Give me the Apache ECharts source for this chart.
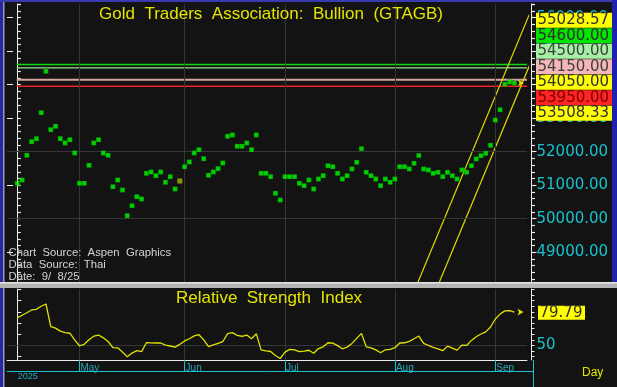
<!DOCTYPE html>
<html><head><meta charset="utf-8">
<script src="https://cdn.jsdelivr.net/npm/echarts@6/dist/echarts.min.js"></script>
<style>html,body{margin:0;padding:0;background:#131313;}#c{width:617px;height:387px;}</style>
</head><body><div id="c"></div>
<script>
// ---- data ----
const titleText = 'Gold  Traders  Association:  Bullion  (GTAGB)';
const rsiTitle = 'Relative  Strength  Index';
const price = [51057,51155,51893,52299,52388,53164,54400,52657,52758,52388,52260,52358,51961,51057,51057,51594,52260,52358,51961,51893,
50955,51155,50857,50090,50388,50657,50588,51355,51394,51284,51394,51087,51254,50887,51125,51552,51693,51961,52060,51791,
51296,51394,51493,51663,52460,52499,52161,52161,52260,52060,52499,51355,51355,51254,50758,50558,51254,51254,51254,51057,
50985,51155,50887,51185,51284,51582,51552,51355,51185,51284,51484,51684,52090,51385,51284,51185,50985,51185,51087,51185,
51552,51552,51484,51654,51887,51484,51454,51355,51385,51254,51385,51284,51185,51454,51385,51582,51782,51881,51952,52191,
52946,53254,54012,54081,54050];
const rsi = [74.6,77,79.2,81.7,82.3,85,87,66.7,65.5,62.8,61.5,60.9,55,49.7,51,55,58.3,59.3,56.8,53.5,
48,47.9,44.2,39.8,43.2,45.3,44.5,52.4,52.3,52.2,52.2,50.3,49.5,48.5,51,54,56,58.5,59.6,55,
49,50.6,51.9,53.5,60.6,61.4,59,58.2,59.3,56,60.5,46,45.2,44.6,41,38.3,44,46.5,46.1,44.4,
45,45.7,43,47.2,48.8,52.4,52,49.8,47,48.5,51.8,56.3,60.8,48.8,47.8,46,43.5,46.1,46.5,48,
52.2,52.4,53.6,56,58.4,51.8,50,48.3,47,45.3,49.4,47.6,45.8,50.3,50,54.5,57.8,60.2,62.1,66.5,
73.6,78,80.9,81,79.79];
const monthStarts = [13,35,56,79,100];
const monthNames = ['May','Jun','Jul','Aug','Sep'];
const yearLabel = '2025';
const levelValues = [54600,54500,54150,53950];
const channelUpper = [[80,46796],[108,56400]];
const channelLower = [[84,46635],[108,54867]];
const priceTags = ['55028.57','54600.00','54500.00','54150.00','54050.00','53950.00','53508.33'];
const rsiLast = 79.79;
const priceGrid = [50000,52000];
const priceMajor = [49000,50000,51000,52000,53000,54000,55000,56000];
const sourceLines = ['Chart  Source:  Aspen  Graphics','Data  Source:  Thai','Date:  9/  8/25'];
const specialIndex = 34;

// ---- styling ----
const levelColors = ['#12d812','#98e098','#d6a4a4','#ee2222'];
const levelWidths = [1.5,1.2,2,1.5];
const tagBg = ['#ffff00','#00e400','#a6f0a6','#f4b6b6','#ffff00','#ff2424','#ffff00'];
const tagFg = ['#303030','#303030','#404040','#404040','#303030','#7a0000','#303030'];
const CYAN = '#18c2cc';
const YEL = '#e4e400';
const AX = '#ececec';

const xMin = -2.155, xMax = 106.63;
const pMin = 48119, pMax = 56409;
const pTickMin = 48000;            // helper scale for minor ticks (same pixel mapping)
const rMin = 37, rMax = 100.4;
const rsiLeftTicks = [40,50,60,70,80,90,100];
const rsiRightTicks = []; for (let v = 40; v <= 100; v += 5) rsiRightTicks.push(v);

const chart = echarts.init(document.getElementById('c'));
const gridLine = {color:'#363636', width:1, type:'solid'};
const noLabel = {show:false};

const graphics = [];
graphics.push({type:'rect', shape:{x:0,y:0,width:3,height:387}, style:{fill:'#2626a6'}, z:200});
graphics.push({type:'rect', shape:{x:3,y:0,width:1.5,height:387}, style:{fill:'#9a9ab4'}, z:200});
graphics.push({type:'rect', shape:{x:0,y:0,width:617,height:2}, style:{fill:'#3a3ab0'}, z:200});
graphics.push({type:'rect', shape:{x:612,y:0,width:5,height:282}, style:{fill:'#2020b0'}, z:200});
graphics.push({type:'rect', shape:{x:0,y:282,width:617,height:6}, style:{fill:'#b4b4b4'}, z:200});
graphics.push({type:'rect', shape:{x:0,y:282,width:617,height:1.5}, style:{fill:'#e6e6e6'}, z:200});
graphics.push({type:'text', x:271, y:14, z:150, style:{text:titleText, fill:YEL, fontSize:17, fontFamily:'Liberation Sans', align:'center', verticalAlign:'middle'}});
graphics.push({type:'text', x:269, y:298.7, z:150, style:{text:rsiTitle, fill:YEL, fontSize:17, fontFamily:'Liberation Sans', align:'center', verticalAlign:'middle'}});
sourceLines.forEach((t,k)=>graphics.push({type:'text', x:8.5, y:252.7+k*12, z:150, style:{text:t, fill:'#d4d4d4', fontSize:11.3, fontFamily:'Liberation Sans', align:'left', verticalAlign:'middle'}}));
priceTags.forEach((t,k)=>{
  graphics.push({type:'rect', shape:{x:536,y:12.7+k*15.5,width:76,height:15}, style:{fill:tagBg[k]}, z:120});
  graphics.push({type:'text', x:537.5, y:20.6+k*15.5, z:121, style:{text:t, fill:tagFg[k], fontSize:15, fontFamily:'DejaVu Sans', align:'left', verticalAlign:'middle'}});
});
graphics.push({type:'rect', shape:{x:538,y:305.7,width:47,height:14}, style:{fill:'#ffff00'}, z:120});
graphics.push({type:'text', x:539.5, y:313, z:121, style:{text:rsiLast.toFixed(2), fill:'#303030', fontSize:15, fontFamily:'DejaVu Sans', align:'left', verticalAlign:'middle'}});
graphics.push({type:'line', shape:{x1:7,y1:371.5,x2:533.5,y2:371.5}, style:{stroke:CYAN, lineWidth:1}, z:130});
graphics.push({type:'line', shape:{x1:533.5,y1:360,x2:533.5,y2:387}, style:{stroke:CYAN, lineWidth:1}, z:130});
graphics.push({type:'text', x:17.7, y:377, z:130, style:{text:yearLabel, fill:'#22a8b8', fontSize:9, fontFamily:'Liberation Sans', align:'left', verticalAlign:'middle'}});
graphics.push({type:'text', x:582, y:373, z:130, style:{text:'Day', fill:YEL, fontSize:12, fontFamily:'Liberation Sans', align:'left', verticalAlign:'middle'}});

const series = [
  {type:'line', xAxisIndex:0, yAxisIndex:0, data:[], silent:true, z:1,
   markLine:{silent:true, symbol:['none','none'], label:noLabel, lineStyle:gridLine, animation:false,
     data:[...monthStarts.map(m=>({xAxis:m})), ...priceGrid.map(v=>({yAxis:v}))]}},
  {type:'line', xAxisIndex:1, yAxisIndex:4, data:[], silent:true, z:1,
   markLine:{silent:true, symbol:['none','none'], label:noLabel, lineStyle:gridLine, animation:false,
     data:[...monthStarts.map(m=>({xAxis:m})), {yAxis:50}]}},
  {type:'line', xAxisIndex:2, yAxisIndex:6, data:[], silent:true}
];
levelValues.forEach((v,k)=>series.push({type:'line', xAxisIndex:0, yAxisIndex:0, symbol:'none', silent:true, z:3,
  data:[[-0.1,v],[xMax,v]], lineStyle:{color:levelColors[k], width:levelWidths[k]}}));
[channelUpper, channelLower].forEach(c=>series.push({type:'line', xAxisIndex:0, yAxisIndex:0, symbol:'none', silent:true, z:4, clip:true,
  data:c, lineStyle:{color:'#dede00', width:1.2}}));
series.push({type:'scatter', xAxisIndex:0, yAxisIndex:0, symbol:'rect', symbolSize:4.6, z:6, silent:true,
  itemStyle:{color:'#00ff00', borderColor:'#006000', borderWidth:0.4},
  data:price.map((v,i)=> i===specialIndex ? {value:[i,v], itemStyle:{color:'#a8b800', borderColor:'#a8b800'}} : [i,v]),
  markPoint:{symbol:'arrow', symbolSize:[5,6], symbolRotate:-90, silent:true, itemStyle:{color:YEL}, label:noLabel,
    data:[{coord:[106, price[price.length-1]]}]}});
series.push({type:'line', xAxisIndex:1, yAxisIndex:4, symbol:'none', silent:true, z:5,
  data:rsi.map((v,i)=>[i,v]), lineStyle:{color:'#e2e200', width:1.3},
  markPoint:{symbol:'arrow', symbolSize:[5,6], symbolRotate:-90, silent:true, itemStyle:{color:YEL}, label:noLabel,
    data:[{coord:[105.9, rsiLast]}]}});

chart.setOption({
  backgroundColor:'#131313',
  animation:false,
  grid:[
    {left:7, top:4, width:520, height:277.7, outerBoundsMode:'none', containLabel:false},
    {left:7, top:289, width:520, height:71, outerBoundsMode:'none', containLabel:false},
    {left:7, top:4, width:520, height:281.7, outerBoundsMode:'none', containLabel:false}
  ],
  xAxis:[
    {type:'value', gridIndex:0, min:xMin, max:xMax, show:false},
    {type:'value', gridIndex:1, min:xMin, max:xMax,
     axisLine:{show:true, lineStyle:{color:AX}},
     axisTick:{show:true, customValues:monthStarts, length:11, inside:false, lineStyle:{color:CYAN}},
     axisLabel:{show:true, customValues:monthStarts, formatter:v=>monthNames[monthStarts.indexOf(Math.round(v))]||'',
       color:'#2aa4bc', fontSize:10, fontFamily:'Liberation Sans', align:'left', margin:3, padding:[0,0,0,1]},
     splitLine:{show:false}},
    {type:'value', gridIndex:2, min:xMin, max:xMax, show:false}
  ],
  yAxis:[
    {type:'value', gridIndex:0, min:pMin, max:pMax, position:'left',
     axisLine:{show:true, lineStyle:{color:AX}}, axisTick:{show:false}, axisLabel:noLabel, splitLine:{show:false}},
    {type:'value', gridIndex:0, min:pMin, max:pMax, position:'left',
     axisLine:{show:false}, axisTick:{show:true, inside:true, length:6, customValues:priceMajor, lineStyle:{color:AX}},
     axisLabel:noLabel, splitLine:{show:false}},
    {type:'value', gridIndex:0, min:pMin, max:pMax, position:'right', offset:4.5,
     axisLine:{show:true, lineStyle:{color:AX}}, axisTick:{show:false}, axisLabel:noLabel, splitLine:{show:false}},
    {type:'value', gridIndex:0, min:pMin, max:pMax, position:'right', offset:4.5,
     axisLine:{show:false}, axisTick:{show:true, inside:false, length:5, customValues:priceMajor, lineStyle:{color:AX}},
     axisLabel:{show:true, customValues:priceMajor, formatter:v=>v.toFixed(2), color:CYAN, fontSize:15, fontFamily:'DejaVu Sans', margin:5},
     splitLine:{show:false}},
    {type:'value', gridIndex:1, min:rMin, max:rMax, position:'left',
     axisLine:{show:true, lineStyle:{color:AX}}, axisTick:{show:true, inside:true, length:4, customValues:rsiLeftTicks, lineStyle:{color:AX}},
     axisLabel:noLabel, splitLine:{show:false}},
    {type:'value', gridIndex:1, min:rMin, max:rMax, position:'right', offset:4.5,
     axisLine:{show:true, lineStyle:{color:AX}}, axisTick:{show:true, inside:false, length:3, customValues:rsiRightTicks, lineStyle:{color:AX}},
     axisLabel:{show:true, customValues:[50], color:CYAN, fontSize:15, fontFamily:'DejaVu Sans', margin:5},
     splitLine:{show:false}},
    {type:'value', gridIndex:2, min:pTickMin, max:pMax, interval:200, position:'left',
     axisLine:{show:false}, axisTick:{show:true, inside:true, length:3.5, lineStyle:{color:AX, width:1.2}}, axisLabel:noLabel, splitLine:{show:false}},
    {type:'value', gridIndex:2, min:pTickMin, max:pMax, interval:200, position:'right', offset:4.5,
     axisLine:{show:false}, axisTick:{show:true, inside:false, length:3.5, lineStyle:{color:AX, width:1.2}}, axisLabel:noLabel, splitLine:{show:false}}
  ],
  graphic:{elements:graphics},
  series:series
});
</script></body></html>
